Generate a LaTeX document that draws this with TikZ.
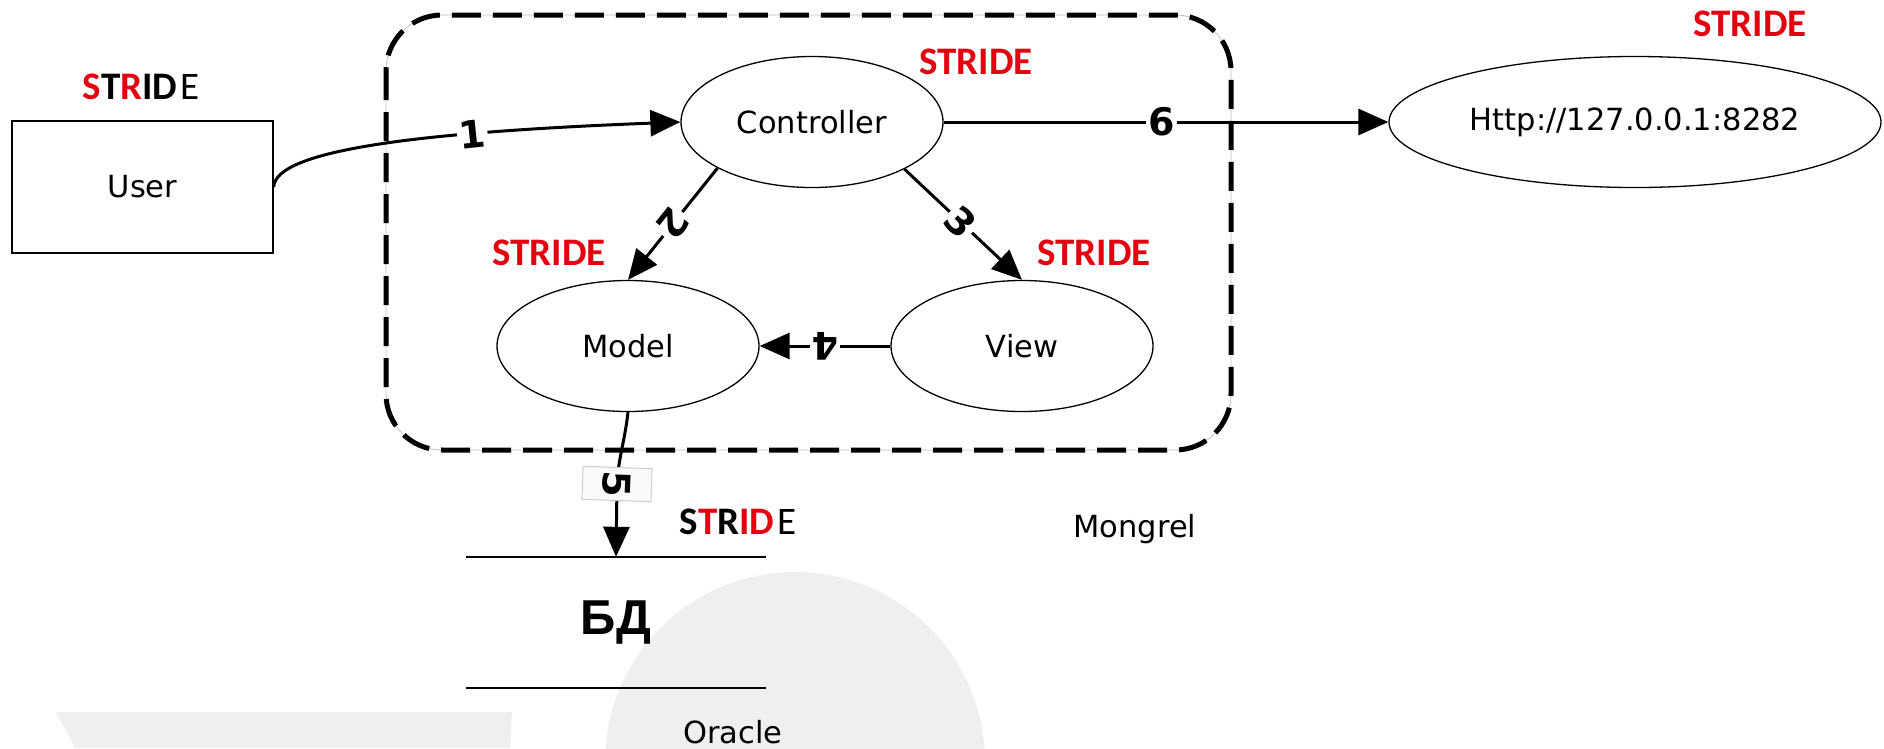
\documentclass[tikz,border=0pt]{standalone}
\usepackage{fontspec}
\setmainfont{DejaVu Sans}
\newfontfamily\stridefont{Carlito}
\newfontfamily\numfont{DejaVu Sans}
\newfontfamily\arialfont{Liberation Sans}
\usetikzlibrary{arrows.meta,shapes.geometric}
\definecolor{strred}{HTML}{E3000F}
\definecolor{wm}{HTML}{EFEFEF}
\tikzset{
  proc/.style={ellipse, draw, line width=1.3pt, inner sep=0pt, minimum width=262pt, minimum height=131pt, font=\fontsize{30.5}{36}\selectfont},
  extent/.style={rectangle, draw, line width=1.5pt, inner sep=0pt, minimum width=261pt, minimum height=132pt, font=\fontsize{30.5}{36}\selectfont},
  flow/.style={line width=3pt, -{Triangle[length=30pt,width=26pt]}},
  num/.style={fill=white, inner sep=2pt, font=\numfont\bfseries\fontsize{38}{40}\selectfont},
  stride/.style={font=\stridefont\bfseries\fontsize{39}{40}\selectfont, text=strred, inner sep=0pt},
  plain/.style={font=\fontsize{30.5}{36}\selectfont, inner sep=0pt},
  boundary/.style={line width=5pt, dash pattern=on 29pt off 12pt, rounded corners=56pt},
  storeline/.style={line width=2.5pt},
}
\begin{document}
\begin{tikzpicture}[x=1pt,y=-1pt]
\useasboundingbox (0,0) rectangle (1884,748);
\clip (0,0) rectangle (1884,748);
% watermark
\fill[wm] (795,762) circle[radius=190pt];
\fill[wm] (56,712) -- (512,712) -- (510,748) -- (75,748) -- cycle;
% trust boundary
\draw[gray!50, line width=0.8pt, rounded corners=56pt] (386,15) rectangle (1231,450);
\draw[boundary] (386,15) rectangle (1231,450);
% nodes
\node[extent] (user) at (142.5,187) {User};
\node[proc] (ctrl) at (812,122) {Controller};
\node[proc, minimum width=492pt] (http) at (1635,122) {Http://127.0.0.1:8282};
\node[proc] (model) at (628,346) {Model};
\node[proc] (view) at (1022,346) {View};
\node[inner sep=0pt, minimum width=300pt, minimum height=131pt, font=\arialfont\bfseries\fontsize{49}{52}\selectfont] (db) at (616,622.5) {БД};
\draw[storeline] (db.north west) -- (db.north east);
\draw[storeline] (db.south west) -- (db.south east);
% STRIDE labels
\node[stride] (s1) at (1750,24) {STRIDE};
\node[stride] (s2) at (976,62) {STRIDE};
\node[stride] (s3) at (549,253) {STRIDE};
\node[stride] (s4) at (1094,253) {STRIDE};
\node[stride, text=black] (s5) at (141,87) {{\bfseries\textcolor{strred}{S}T\textcolor{strred}{R}ID}\hspace{3pt}{\mdseries E}};
\node[stride, text=black] (s6) at (738,522) {{\bfseries S\textcolor{strred}{T}R\textcolor{strred}{ID}}\hspace{3pt}{\mdseries E}};
% plain texts
\node[plain] (mongrel) at (1135,529) {Mongrel};
\node[plain] (oracle) at (733,732) {Oracle};
% flows
\draw[flow] (user.east) .. controls (275,150) and (420,132) .. (ctrl.west)
  node[num, pos=0.69, rotate=6] {1};
\draw[flow] (ctrl.-154) -- (model.north) node[num, pos=0.5, rotate=-128.8] {2};
\draw[flow] (ctrl.-27) -- (view.north) node[num, pos=0.48, rotate=-44.7] {3};
\draw[flow] (view.west) -- (model.east) node[num, pos=0.5, rotate=180] {4};
\draw[flow] (model.south) .. controls (625,440) and (618,460) .. (617,484)
  node[num, draw=gray!40, line width=1pt, fill=white!96!gray, rotate=-92, inner sep=0pt, minimum width=33pt, minimum height=69pt] {5}
  -- (db.north);
\draw[flow] (ctrl.east) -- (http.west) node[num, pos=0.49] {6};
\end{tikzpicture}
\end{document}
